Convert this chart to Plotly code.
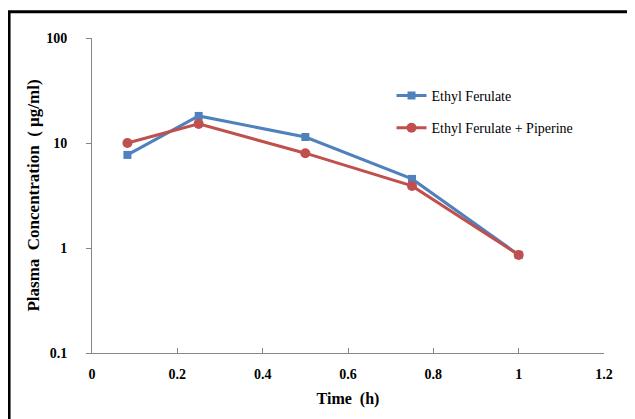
import plotly.graph_objects as go

time_h = [0.083, 0.25, 0.5, 0.75, 1.0]
ef = [7.7, 18.1, 11.4, 4.55, 0.86]
ef_pip = [10.0, 15.2, 8.0, 3.9, 0.86]
series_names = ["Ethyl Ferulate", "Ethyl Ferulate + Piperine"]
x_ticks = [0, 0.2, 0.4, 0.6, 0.8, 1, 1.2]
x_tick_labels = ["0", "0.2", "0.4", "0.6", "0.8", "1", "1.2"]
y_ticks = [0.1, 1, 10, 100]
y_tick_labels = ["0.1", "1", "10", "100"]

serif = "Liberation Serif, Times New Roman, serif"
fig = go.Figure()
fig.add_trace(go.Scatter(x=time_h, y=ef, mode="lines+markers", name=series_names[0],
                         legendgroup="a",
                         line=dict(color="#4F81BD", width=3),
                         marker=dict(symbol="square", size=8, color="#4F81BD")))
fig.add_trace(go.Scatter(x=time_h, y=ef_pip, mode="lines+markers", name=series_names[1],
                         legendgroup="b",
                         line=dict(color="#C0504D", width=3),
                         marker=dict(symbol="circle", size=10, color="#C0504D")))

fig.update_layout(
    width=635, height=419,
    margin=dict(l=84, r=39, t=30, b=74),
    paper_bgcolor="white", plot_bgcolor="white",
    font=dict(family=serif, color="black", size=14),
    showlegend=True,
    legend=dict(x=0.585, y=0.867, xanchor="left", yanchor="top",
                bgcolor="rgba(0,0,0,0)", tracegroupgap=11,
                font=dict(family=serif, size=14, color="black")),
    xaxis=dict(range=[0, 1.2], tickvals=x_ticks, ticktext=x_tick_labels,
               showgrid=False, zeroline=False, showline=True, linecolor="#868686",
               linewidth=1, ticks="inside", ticklen=5, tickcolor="#868686",
               ticklabelstandoff=8,
               tickfont=dict(family=serif, size=14, color="black", weight="bold"),
               title=dict(text="<b>Time  (h)</b>", font=dict(family=serif, size=16), standoff=12)),
    yaxis=dict(type="log", range=[-1, 2], tickvals=y_ticks, ticktext=y_tick_labels,
               showgrid=False, zeroline=False, showline=True, linecolor="#868686",
               linewidth=1, ticks="outside", ticklen=5, tickcolor="#868686",
               ticklabelstandoff=16,
               tickfont=dict(family=serif, size=14, color="black", weight="bold"),
               title=dict(text="<b>Plasma  Concentration  ( µg/ml)</b>",
                          font=dict(family=serif, size=17), standoff=2)),
)

fig.add_shape(type="rect", xref="paper", yref="paper",
              x0=-0.162, x1=1.3, y0=-0.5, y1=1.083,
              line=dict(color="black", width=3), fillcolor="rgba(0,0,0,0)", layer="below")

fig.write_html("out.html")
